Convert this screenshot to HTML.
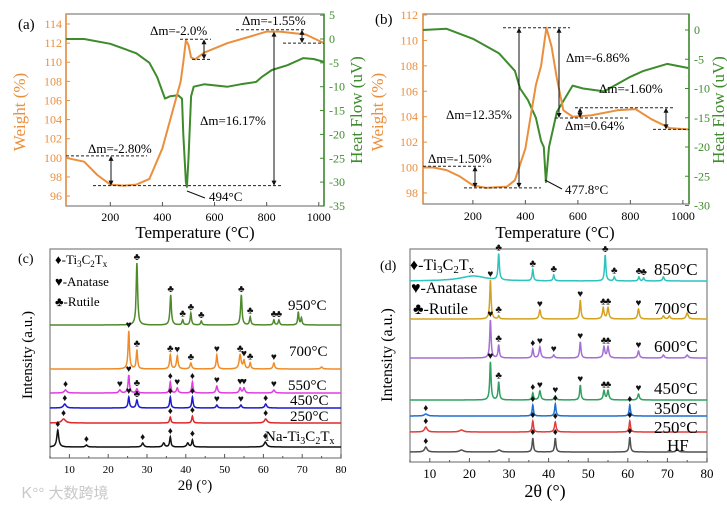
<!DOCTYPE html>
<html><head><meta charset="utf-8"><style>
html,body{margin:0;padding:0;background:#fff;}
svg{display:block;font-family:"Liberation Serif","Noto Serif CJK SC",serif;}
</style></head><body>
<svg id="fig" width="727" height="506" viewBox="0 0 727 506" xmlns="http://www.w3.org/2000/svg">
<g id="root"></g>
<text x="22" y="498" font-size="15" fill="#c8c8c8" font-family="'Liberation Sans','Noto Sans CJK SC',sans-serif">Ꮶ°° 大数跨境</text>
</svg>
<script>
// ---------- DATA ----------
// Panel (a) TG/DSC
const aWeightT = [30,100,150,200,250,300,350,400,450,470,480,490,500,510,525,560,650,750,800,850,950,1020];
const aWeightV = [100,99.6,98.2,97.2,97.1,97.2,97.8,101,106,108,110,112.3,111.8,110.5,110.3,111,112,112.8,113.2,113.2,112.9,112];
const aHeatT = [30,100,200,300,350,380,400,410,430,460,475,480,490,494,500,510,520,560,650,700,760,780,820,880,940,980,1020];
const aHeatV = [0,0,-1,-3,-5,-8,-11,-12.5,-12,-11.8,-12.5,-20,-30,-31,-25,-12,-10,-9.5,-10,-9.5,-9,-8,-6.5,-5.5,-4,-4.2,-4.8];
// Panel (b)
const bWeightT = [10,50,100,150,200,250,330,360,400,420,440,460,480,500,520,545,580,650,750,820,880,950,1020];
const bWeightV = [100,100,99.8,99.3,98.6,98.4,98.5,99,101.5,104,106.5,108,111,109.5,107,104.5,104,104.1,104.5,104.6,103.8,103.1,103];
const bHeatT = [10,100,200,300,360,380,410,440,460,470,478,490,520,560,580,620,700,800,850,940,1020];
const bHeatV = [0,0.2,-1.5,-4,-7,-10,-12,-15,-19,-20,-26,-20,-14,-11,-9.5,-10,-10.5,-8,-7,-5.8,-6.5];
// Tick labels
const aWeightTicks = [96,98,100,102,104,106,108,110,112,114];
const aHeatTicks = [5,0,-5,-10,-15,-20,-25,-30,-35];
const bWeightTicks = [98,100,102,104,106,108,110,112];
const bHeatTicks = [0,-5,-10,-15,-20,-25,-30];
const tempTicks = [200,400,600,800,1000];
const thetaTicks = [10,20,30,40,50,60,70,80];
// Panel (c) XRD: peaks [2theta, intensity, width]
const c950 = [[27.4,62,0.22],[36.1,30,0.22],[39.2,5,0.2],[41.3,12,0.2],[44,4,0.2],[54.3,30,0.22],[56.6,8,0.2],[62.7,5,0.2],[64,5,0.2],[69,13,0.18],[69.8,7,0.18]];
const c700 = [[25.3,38,0.22],[27.4,19,0.2],[36,14,0.22],[37.8,13,0.25],[41.3,6,0.25],[48,14,0.22],[54,14,0.3],[55,8,0.25],[56.6,6,0.2],[62.7,6,0.25],[75,2,0.3]];
const c550 = [[9,3,0.4],[23,3,0.3],[25.3,18,0.22],[27.4,4,0.25],[36,11,0.2],[37.8,5,0.25],[41.7,11,0.2],[48,7,0.25],[54,5,0.25],[55,5,0.25],[62.7,3,0.3]];
const c450 = [[8.8,4,0.4],[25.3,11,0.22],[27.4,8,0.25],[36,11,0.2],[41.7,11,0.2],[48,3,0.25],[54.2,3,0.25],[60.6,4,0.3]];
const c250 = [[8.5,4,0.6],[36,6,0.2],[41.7,7,0.2],[60.6,4,0.4]];
const cNa = [[7,17,0.3],[14.4,2,0.3],[28.9,4,0.3],[34.3,4,0.3],[36,10,0.2],[40.5,4,0.3],[41.7,7,0.2],[60.5,5,0.4]];
// Panel (d)
const d850 = [[21,5,4],[27.4,26,0.2],[36,11,0.2],[41.3,6,0.2],[54.3,26,0.2],[56.6,4,0.2],[62.8,4,0.2],[64,3,0.2],[69,4,0.25]];
const d700 = [[25.3,39,0.2],[27.4,3,0.2],[37.8,9,0.25],[48,19,0.2],[53.8,11,0.25],[55,11,0.25],[62.7,10,0.25],[69,3,0.25],[70.5,3,0.25],[75,6,0.3]];
const d600 = [[25.3,38,0.2],[27.4,13,0.2],[36,9,0.2],[37.8,11,0.25],[41.3,3,0.25],[48,16,0.2],[54,11,0.25],[55,11,0.25],[62.7,7,0.25],[69,3,0.25],[75,3,0.3]];
const d450 = [[25.3,38,0.2],[27.4,18,0.2],[36,7,0.2],[37.8,9,0.25],[41.7,4,0.25],[48,15,0.2],[54,9,0.25],[55,9,0.25],[62.7,6,0.25]];
const d350 = [[9,2,0.5],[36,11,0.2],[41.7,12,0.2],[60.5,11,0.2]];
const d250 = [[9,5,0.4],[18,2,0.6],[36,11,0.2],[41.7,10,0.25],[60.5,11,0.2]];
const dHF = [[9,5,0.4],[18,2,0.6],[27.5,2,0.5],[36,14,0.2],[41.7,14,0.2],[60.5,15,0.2],[72.5,3,0.3]];
// Phase markers: D = Ti3C2Tx, H = anatase, C = rutile
const c950m = [[27.4,'C'],[36.1,'C'],[39.2,'C'],[41.3,'C'],[44,'C'],[54.3,'C'],[56.6,'C'],[62.7,'C'],[64,'C']];
const c700m = [[25.3,'H'],[27.4,'C'],[36,'C'],[37.8,'H'],[41.3,'C'],[48,'H'],[54,'C'],[55,'H'],[56.6,'C'],[62.7,'H']];
const c550m = [[9,'D'],[23,'H'],[25.3,'H'],[27.4,'C'],[36,'D'],[37.8,'H'],[41.7,'D'],[48,'H'],[54,'H'],[55,'H'],[62.7,'H']];
const c450m = [[8.8,'D'],[25.3,'H'],[27.4,'C'],[36,'D'],[41.7,'D'],[48,'H'],[54.2,'H'],[60.6,'D']];
const c250m = [[8.5,'D'],[36,'D'],[41.7,'D'],[60.6,'D']];
const cNam = [[7,'D'],[14.4,'D'],[28.9,'D'],[36,'D'],[41.7,'D'],[60.5,'D']];
const d850m = [[27.4,'C'],[36,'C'],[41.3,'C'],[54.3,'C'],[56.6,'C'],[62.8,'C'],[64,'C']];
const d700m = [[25.3,'H'],[27.4,'C'],[37.8,'H'],[48,'H'],[53.8,'C'],[55,'C'],[62.7,'H']];
const d600m = [[25.3,'H'],[27.4,'C'],[36,'D'],[37.8,'H'],[41.3,'H'],[48,'H'],[54,'C'],[55,'C'],[62.7,'H']];
const d450m = [[25.3,'H'],[27.4,'C'],[36,'D'],[37.8,'H'],[41.7,'H'],[48,'H'],[54,'C'],[55,'C'],[62.7,'H']];
const d350m = [[9,'D'],[36,'D'],[41.7,'D'],[60.5,'D']];
const d250m = [[9,'D'],[36,'D'],[41.7,'D'],[60.5,'D']];
const dHFm = [[9,'D'],[36,'D'],[41.7,'D'],[60.5,'D']];

// ---------- DRAWING ----------
const NS='http://www.w3.org/2000/svg';
const root=document.getElementById('root');
function el(tag,attrs,parent,txt){const e=document.createElementNS(NS,tag);for(const k in attrs)e.setAttribute(k,attrs[k]);if(txt!==undefined)e.textContent=txt;(parent||root).appendChild(e);return e;}
const ORANGE='#ea8f3c', GREEN='#3d8b2c';

// axis functions
const ax={x:t=>66+(t-30)*258/990, w:v=>24+(114-v)*9.56, h:v=>39-v*4.77};
const bx={x:t=>423+(t-10)*0.2625, w:v=>15+(112-v)*12.71, h:v=>30-v*5.85};
const cx={x:d=>50+(d-5)*3.88};
const dx={x:d=>410+(d-5)*3.96};

function line(xs,ys,fx,fy,color,name){
  let d='';for(let i=0;i<xs.length;i++){d+=(i?'L':'M')+fx(xs[i]).toFixed(1)+','+fy(ys[i]).toFixed(1);}
  const p=el('path',{d:d,fill:'none',stroke:color,'stroke-width':2,'stroke-linejoin':'round'});
  
  
}
function txt(x,y,s,opts,name){const t=el('text',Object.assign({x:x,y:y},opts||{}),null,s);return t;}
function frame(x1,y1,x2,y2,name){const r=el('rect',{x:x1,y:y1,width:x2-x1,height:y2-y1,fill:'none',stroke:'#888','stroke-width':1.3});}

// ---- Panel (a) ----
frame(66,14,324,206,'panel-a-frame');
el('line',{x1:66,y1:14,x2:66,y2:206,stroke:ORANGE,'stroke-width':1.5});
el('line',{x1:324,y1:14,x2:324,y2:206,stroke:GREEN,'stroke-width':1.5});
aWeightTicks.forEach(v=>{const y=ax.w(v);el('line',{x1:66,y1:y,x2:70,y2:y,stroke:ORANGE});txt(62,y+4,String(v),{'font-size':12,fill:ORANGE,'text-anchor':'end'},'weight-tick-label');});
aHeatTicks.forEach(v=>{const y=ax.h(v);el('line',{x1:320,y1:y,x2:324,y2:y,stroke:GREEN});txt(329,y+4,String(v),{'font-size':12,fill:GREEN},'heatflow-tick-label');});
tempTicks.forEach(t=>{const x=ax.x(t);el('line',{x1:x,y1:206,x2:x,y2:202,stroke:'#555'});txt(x,221,String(t),{'font-size':12,'text-anchor':'middle'},'temp-tick-label');});
txt(18,29,'(a)',{'font-size':15},'panel-a-label');
txt(0,0,'Weight (%)',{'font-size':17,fill:ORANGE,'text-anchor':'middle',transform:'translate(25,112) rotate(-90)'},'y-axis-title-weight');
txt(0,0,'Heat Flow (uV)',{'font-size':17,fill:GREEN,'text-anchor':'middle',transform:'translate(362,110) rotate(-90)'},'y-axis-title-heatflow');
txt(195,238,'Temperature (°C)',{'font-size':17,'text-anchor':'middle'},'x-axis-title');
line(aHeatT,aHeatV,ax.x,ax.h,GREEN,'heat-flow-line-a');
line(aWeightT,aWeightV,ax.x,ax.w,ORANGE,'weight-line-a');

const DASH={stroke:'#222','stroke-width':1,'stroke-dasharray':'3,2'};
function dash(x1,y,x2){el('line',Object.assign({x1:x1,y1:y,x2:x2,y2:y},DASH));}
function arrow(x,y1,y2){el('line',{x1:x,y1:y1+4,x2:x,y2:y2-4,stroke:'#111','stroke-width':1});
 el('path',{d:`M${x-2.5},${y1+5}L${x},${y1}L${x+2.5},${y1+5}Z M${x-2.5},${y2-5}L${x},${y2}L${x+2.5},${y2-5}Z`,fill:'#111'});}
// annotations (a)
dash(66,ax.w(100.2),147);dash(93,ax.w(97.1),282);arrow(111,ax.w(100.2),ax.w(97.1));
txt(88,153,'Δm=-2.80%',{'font-size':13},'annotation-a1');
dash(180,ax.w(112.4),211);dash(192,ax.w(110.3),211);arrow(204,ax.w(112.4),ax.w(110.3));
txt(150,35,'Δm=-2.0%',{'font-size':13},'annotation-a2');
dash(236,ax.w(113.4),305);dash(283,ax.w(112),324);arrow(302,ax.w(113.4),ax.w(112));
txt(242,25,'Δm=-1.55%',{'font-size':13},'annotation-a3');
arrow(274,ax.w(113.2),ax.w(97.1));
txt(200,125,'Δm=16.17%',{'font-size':13},'annotation-a4');
el('line',{x1:187,y1:191,x2:205,y2:198,stroke:'#111'});
txt(209,201,'494°C',{'font-size':13},'annotation-a5');

// ---- Panel (b) ----
frame(423,14,689,204,'panel-b-frame');
el('line',{x1:423,y1:14,x2:423,y2:204,stroke:ORANGE,'stroke-width':1.5});
el('line',{x1:689,y1:14,x2:689,y2:204,stroke:GREEN,'stroke-width':1.5});
bWeightTicks.forEach(v=>{const y=bx.w(v);el('line',{x1:423,y1:y,x2:427,y2:y,stroke:ORANGE});txt(418,y+4,String(v),{'font-size':12,fill:ORANGE,'text-anchor':'end'},'weight-tick-label');});
bHeatTicks.forEach(v=>{const y=bx.h(v);el('line',{x1:685,y1:y,x2:689,y2:y,stroke:GREEN});txt(694,y+4,String(v),{'font-size':12,fill:GREEN},'heatflow-tick-label');});
tempTicks.forEach(t=>{const x=bx.x(t);el('line',{x1:x,y1:204,x2:x,y2:200,stroke:'#555'});txt(x,220,String(t),{'font-size':12,'text-anchor':'middle'},'temp-tick-label');});
txt(375,24,'(b)',{'font-size':15},'panel-b-label');
txt(0,0,'Weight (%)',{'font-size':17,fill:ORANGE,'text-anchor':'middle',transform:'translate(383,112) rotate(-90)'},'y-axis-title-weight');
txt(0,0,'Heat Flow (uV)',{'font-size':17,fill:GREEN,'text-anchor':'middle',transform:'translate(724,110) rotate(-90)'},'y-axis-title-heatflow');
txt(555,238,'Temperature (°C)',{'font-size':17,'text-anchor':'middle'},'x-axis-title');
line(bHeatT,bHeatV,bx.x,bx.h,GREEN,'heat-flow-line-b');
line(bWeightT,bWeightV,bx.x,bx.w,ORANGE,'weight-line-b');
dash(423,bx.w(100.1),484);dash(464,bx.w(98.4),541);arrow(475,bx.w(100.1),bx.w(98.4));
txt(428,163,'Δm=-1.50%',{'font-size':13},'annotation-b1');
dash(503,bx.w(111),570);arrow(519,bx.w(111),bx.w(98.4));
txt(446,119,'Δm=12.35%',{'font-size':13},'annotation-b2');
arrow(559,bx.w(111),bx.w(103.9));
txt(566,62,'Δm=-6.86%',{'font-size':13},'annotation-b3');
dash(555,bx.w(103.9),630);dash(575,bx.w(104.7),675);arrow(580,bx.w(104.7),bx.w(103.9));
txt(565,130,'Δm=0.64%',{'font-size':13},'annotation-b4');
txt(599,93,'Δm=-1.60%',{'font-size':13},'annotation-b5');
dash(653,bx.w(103),689);arrow(666,bx.w(104.7),bx.w(103));
el('line',{x1:545,y1:180,x2:562,y2:189,stroke:'#111'});
txt(565,194,'477.8°C',{'font-size':13},'annotation-b6');

// ---- XRD ----
const SYM={D:'♦',H:'♥',C:'♣'};
function xrd(peaks,marks,base,fx,color,name){
  const f=d=>{let s=0;peaks.forEach(p=>{const g=(d-p[0])/p[2];s+=p[1]/(1+g*g);});return s;};
  let path='';for(let d=5;d<=80.001;d+=0.05){path+=(path?'L':'M')+fx(d).toFixed(1)+','+(base-f(d)).toFixed(1);}
  const p=el('path',{d:path,fill:'none',stroke:color,'stroke-width':1.5});
  
  
  marks.forEach(m=>{const t=el('text',{x:fx(m[0]),y:base-f(m[0])-3,'font-size':10,'text-anchor':'middle',fill:'#111'},null,SYM[m[1]]);
    
    });
}
// (c)
frame(50,249,341,458,'panel-c-frame');
thetaTicks.forEach(v=>{const x=cx.x(v);el('line',{x1:x,y1:458,x2:x,y2:454,stroke:'#555'});el('line',{x1:x-19.4,y1:458,x2:x-19.4,y2:456,stroke:'#555'});txt(x,473,String(v),{'font-size':11,'text-anchor':'middle'},'theta-tick-label');});
xrd(c950,c950m,325,cx.x,'#4f8a2a','xrd-c-950');
xrd(c700,c700m,369,cx.x,'#f08c28','xrd-c-700');
xrd(c550,c550m,393,cx.x,'#e03ee0','xrd-c-550');
xrd(c450,c450m,408,cx.x,'#1a1ad0','xrd-c-450');
xrd(c250,c250m,423,cx.x,'#e02828','xrd-c-250');
xrd(cNa,cNam,447,cx.x,'#111','xrd-c-na');
txt(18,263,'(c)',{'font-size':14},'panel-c-label');
txt(55,264,'♦-Ti',{'font-size':13},'legend-ti3c2tx').innerHTML='♦-Ti<tspan font-size="9" dy="3">3</tspan><tspan dy="-3">C</tspan><tspan font-size="9" dy="3">2</tspan><tspan dy="-3">T</tspan><tspan font-size="9" dy="3">x</tspan>';
txt(55,286,'♥-Anatase',{'font-size':13},'legend-anatase');
txt(55,306,'♣-Rutile',{'font-size':13},'legend-rutile');
txt(288,310,'950°C',{'font-size':15},'label-950');
txt(289,356,'700°C',{'font-size':15},'label-700');
txt(288,390,'550°C',{'font-size':15},'label-550');
txt(290,405,'450°C',{'font-size':15},'label-450');
txt(290,421,'250°C',{'font-size':15},'label-250');
txt(265,441,'',{'font-size':15},'label-na').innerHTML='Na-Ti<tspan font-size="10" dy="3">3</tspan><tspan dy="-3">C</tspan><tspan font-size="10" dy="3">2</tspan><tspan dy="-3">T</tspan><tspan font-size="10" dy="3">x</tspan>';
txt(0,0,'Intensity (a.u.)',{'font-size':15,'text-anchor':'middle',transform:'translate(32,355) rotate(-90)'},'y-axis-title-intensity');
txt(195,490,'2θ (°)',{'font-size':15,'text-anchor':'middle'},'x-axis-title-2theta');
// (d)
frame(410,249,707,462,'panel-d-frame');
thetaTicks.forEach(v=>{const x=dx.x(v);el('line',{x1:x,y1:462,x2:x,y2:458,stroke:'#555'});el('line',{x1:x-19.8,y1:462,x2:x-19.8,y2:460,stroke:'#555'});txt(x,478,String(v),{'font-size':13,'text-anchor':'middle'},'theta-tick-label');});
xrd(d850,d850m,281,dx.x,'#2ec4be','xrd-d-850');
xrd(d700,d700m,319,dx.x,'#d4a21e','xrd-d-700');
xrd(d600,d600m,358,dx.x,'#a46ed4','xrd-d-600');
xrd(d450,d450m,400,dx.x,'#2ea060','xrd-d-450');
xrd(d350,d350m,416,dx.x,'#1e6fd0','xrd-d-350');
xrd(d250,d250m,432,dx.x,'#e03c3c','xrd-d-250');
xrd(dHF,dHFm,452,dx.x,'#505050','xrd-d-hf');
txt(380,270,'(d)',{'font-size':14},'panel-d-label');
txt(410,270,'',{'font-size':16},'legend-ti3c2tx').innerHTML='♦-Ti<tspan font-size="11" dy="3">3</tspan><tspan dy="-3">C</tspan><tspan font-size="11" dy="3">2</tspan><tspan dy="-3">T</tspan><tspan font-size="11" dy="3">x</tspan>';
txt(411,293,'♥-Anatase',{'font-size':16},'legend-anatase');
txt(413,314,'♣-Rutile',{'font-size':16},'legend-rutile');
txt(654,275,'850°C',{'font-size':17},'label-850');
txt(654,314,'700°C',{'font-size':17},'label-700');
txt(654,352,'600°C',{'font-size':17},'label-600');
txt(654,394,'450°C',{'font-size':17},'label-450');
txt(654,414,'350°C',{'font-size':17},'label-350');
txt(654,433,'250°C',{'font-size':17},'label-250');
txt(667,451,'HF',{'font-size':17},'label-hf');
txt(0,0,'Intensity (a.u.)',{'font-size':16,'text-anchor':'middle',transform:'translate(392,355) rotate(-90)'},'y-axis-title-intensity');
txt(545,497,'2θ  (°)',{'font-size':18,'text-anchor':'middle'},'x-axis-title-2theta');
</script>
</body></html>
